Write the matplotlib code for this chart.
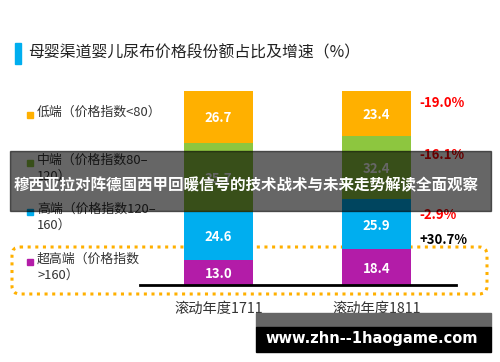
import matplotlib.pyplot as plt
from matplotlib.patches import FancyBboxPatch, Rectangle

plt.rcParams['font.family'] = ['Noto Sans CJK SC', 'DejaVu Sans']

categories = ['滚动年度1711', '滚动年度1811']
segments = ['超高端', '高端', '中端', '低端']
values = {
    '超高端': [13.0, 18.4],
    '高端': [24.6, 25.9],
    '中端': [35.7, 32.4],
    '低端': [26.7, 23.4],
}
growth = ['+30.7%', '-2.9%', '-16.1%', '-19.0%']
legend_labels = ['超高端（价格指数\n>160）', '高端（价格指数120–\n160）',
                 '中端（价格指数80–\n120）', '低端（价格指数<80）']
colors = ['#B31CA8', '#00AEEF', '#8DC63F', '#FFB000']
growth_colors = ['#000000', '#FF0000', '#FF0000', '#FF0000']
title = '母婴渠道婴儿尿布价格段份额占比及增速（%）'
banner = '穆西亚拉对阵德国西甲回暖信号的技术战术与未来走势解读全面观察'
watermark = 'www.zhn--1haogame.com'

W, H = 500, 362
fig = plt.figure(figsize=(W / 100, H / 100), dpi=100)

# background annotations in pixel coords
ov = fig.add_axes([0, 0, 1, 1])
ov.set_xlim(0, W)
ov.set_ylim(H, 0)
ov.axis('off')

# bar axes
ax = fig.add_axes([140 / W, (H - 285) / H, 316 / W, 194 / H])
ax.set_xlim(-0.497, 1.503)
ax.set_ylim(0, 100)
for s in ['top', 'left', 'right']:
    ax.spines[s].set_visible(False)
ax.spines['bottom'].set_linewidth(2)
ax.spines['bottom'].set_color('black')
ax.set_yticks([])
ax.set_xticks([0, 1])
ax.set_xticklabels(categories, fontsize=10.3, color='#333333',
                   family=['Noto Sans CJK SC', 'DejaVu Sans'])
ax.tick_params(axis='x', length=0, pad=12)
ax.patch.set_alpha(0)

x = [0, 1]
bottom = [0, 0]
for seg, col in zip(segments, colors):
    v = values[seg]
    ax.bar(x, v, 0.437, bottom=bottom, color=col, zorder=2)
    for i in range(2):
        ax.text(x[i], bottom[i] + v[i] / 2 - 0.8, f'{v[i]:.1f}', ha='center', va='center',
                color='white', fontsize=9.5, fontweight='bold')
    bottom = [bottom[i] + v[i] for i in range(2)]

# growth labels next to second bar
gy = [240, 215, 155, 103]
for g, c, yy in zip(growth, growth_colors, gy):
    ov.text(419, yy, g, color=c, fontsize=9.5, fontweight='bold', va='center', ha='left')

# title
ov.add_patch(Rectangle((15, 43), 6, 21, color='#00AEEF'))
ov.text(28, 53, title, fontsize=11.4, va='center', ha='left', color='#222222')

# legend
ly = [262, 212, 163, 115]
for lab, col, yy in zip(legend_labels, colors, ly):
    ov.add_patch(Rectangle((27, yy - 3.5), 6, 6, color=col))
    ov.text(37, yy - 9, lab, fontsize=9.3, va='top', ha='left', color='#333333',
            linespacing=1.3)

# dotted highlight box
ov.add_patch(FancyBboxPatch((12, 247), 475, 47, boxstyle='round,pad=0,rounding_size=8',
                            fill=False, edgecolor='#FFB000', linestyle=(0, (1, 1.5)),
                            linewidth=2.2))

# foreground overlay: banner and watermark
top = fig.add_axes([0, 0, 1, 1])
top.set_xlim(0, W)
top.set_ylim(H, 0)
top.axis('off')
top.patch.set_alpha(0)

top.add_patch(Rectangle((10, 151), 481, 60, color='black', alpha=0.6))
top.text(246, 185, banner, fontsize=11.2, fontweight='bold', color='white',
         ha='center', va='center')

top.add_patch(Rectangle((256, 313), 235, 14, color='#666666'))
top.add_patch(Rectangle((256, 327), 235, 25, color='black'))
top.text(372, 339, watermark, fontsize=10.5, fontweight='bold', color='white',
         ha='center', va='center', family='DejaVu Sans')

fig.savefig('out.png', dpi=100)
